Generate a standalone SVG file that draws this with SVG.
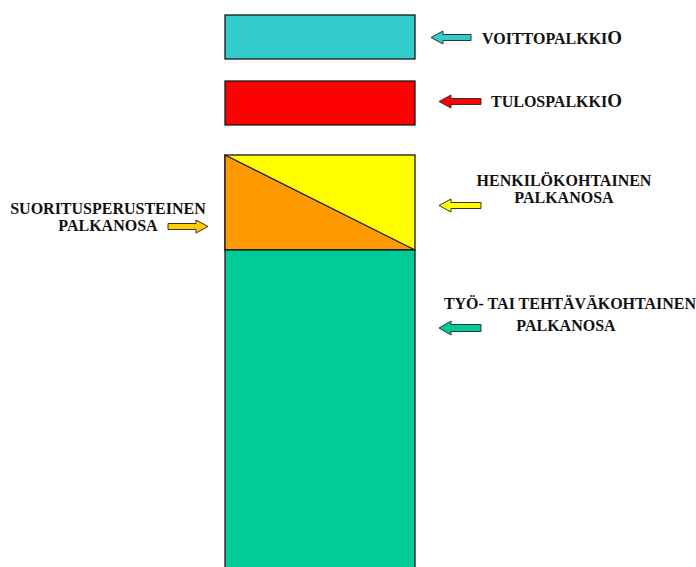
<svg xmlns="http://www.w3.org/2000/svg" width="696" height="567" viewBox="0 0 696 567">
<style>
.box{stroke:#1a1a1a;stroke-width:1.3}
.arr{stroke:#333;stroke-width:1}
.lbl{font-family:"Liberation Serif","Times New Roman",serif;font-weight:bold;font-size:16px;fill:#111}
</style>
<rect width="696" height="567" fill="#fff"/>
<g id="voittopalkkio">
<rect class="box" x="225" y="15" width="190" height="44" fill="#33CCCC"/>
</g>
<g id="tulospalkkio">
<rect class="box" x="225" y="81" width="190" height="44" fill="#FF0000"/>
</g>
<g id="henkilokohtainen">
<rect class="box" x="225" y="155" width="190" height="95" fill="#FFFF00"/>
</g>
<g id="suoritusperusteinen">
<polygon class="box" points="225,155 415,250 225,250" fill="#FF9900"/>
</g>
<g id="tyokohtainen">
<rect class="box" x="225" y="250" width="190" height="330" fill="#00CC99"/>
</g>
<g id="connectors">
<polygon class="arr" fill="#33CCCC" points="431,37.5 443,31 443,34.5 471,34.5 471,40.5 443,40.5 443,44"/>
<polygon class="arr" fill="#FF0000" points="439,101.5 451,95 451,98.5 481,98.5 481,104.5 451,104.5 451,108"/>
<polygon class="arr" fill="#FFCC00" points="208,226.5 196,220 196,223.5 168,223.5 168,229.5 196,229.5 196,233"/>
<polygon class="arr" fill="#FFFF00" points="439,205.5 451,199 451,202.5 481,202.5 481,208.5 451,208.5 451,212"/>
<polygon class="arr" fill="#00CC99" points="439,328 451,321 451,324.5 481,324.5 481,331.5 451,331.5 451,335"/>
</g>
<g id="labels">
<text class="lbl" x="482" y="44">VOITTOPALKKI<tspan font-size="19">O</tspan></text>
<text class="lbl" x="491" y="107">TULOSPALKKI<tspan font-size="19">O</tspan></text>
<text class="lbl" x="108" y="214" text-anchor="middle">SUORITUSPERUSTEINEN</text>
<text class="lbl" x="108" y="231" text-anchor="middle">PALKANOSA</text>
<text class="lbl" x="564" y="186" text-anchor="middle">HENKILÖKOHTAINEN</text>
<text class="lbl" x="564" y="203" text-anchor="middle">PALKANOSA</text>
<text class="lbl" x="570" y="309" text-anchor="middle">TYÖ- TAI TEHTÄVÄKOHTAINEN</text>
<text class="lbl" x="566" y="331" text-anchor="middle">PALKANOSA</text>
</g>
</svg>
